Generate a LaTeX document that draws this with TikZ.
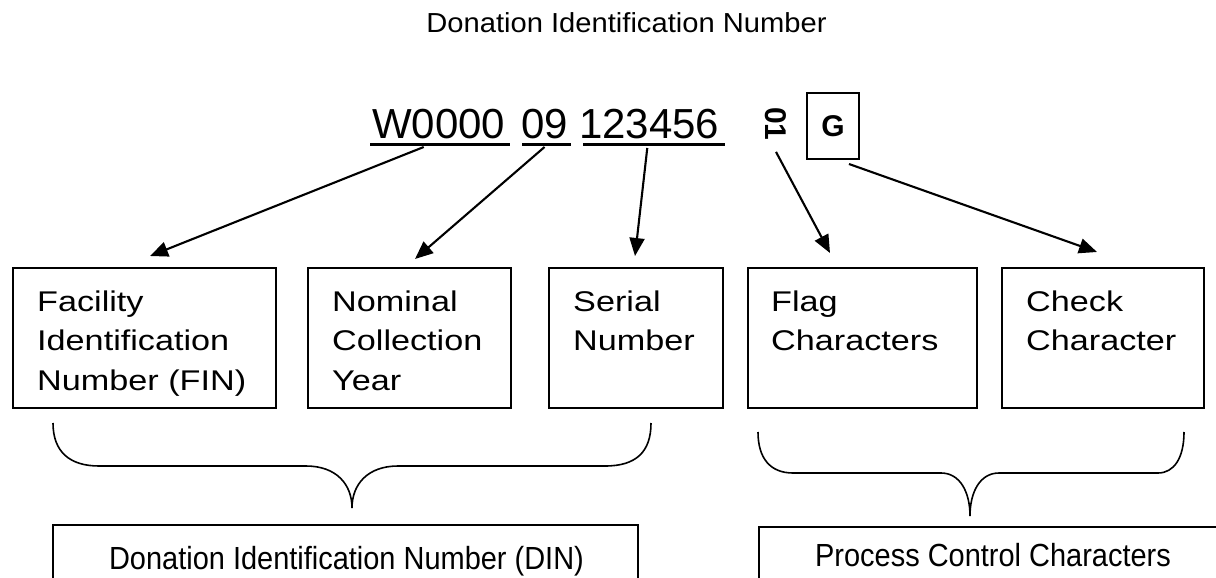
\documentclass[tikz,border=0pt]{standalone}
\usepackage{graphicx}
\usepackage{fontspec}
\setmainfont{Liberation Sans}
\newfontfamily\headfont[FakeStretch=1.06]{Liberation Sans}
\newfontfamily\cellfont[FakeStretch=1.2]{Liberation Sans}
\newfontfamily\groupfont[FakeStretch=0.905]{Liberation Sans}
\usetikzlibrary{arrows.meta}

% stacked lines, baseline on the first line
\newcommand\celllines[1]{\begin{tabular}[t]{@{}l@{}}#1\end{tabular}}

\tikzset{
  cell/.style={draw, line width=2.5pt, anchor=north west, inner sep=0pt, outer sep=0pt,
               minimum height=140pt},
  celltext/.style={anchor=base west, inner sep=0pt,
                   font=\cellfont\fontsize{28.5}{39.5}\selectfont},
  code/.style={anchor=base west, inner sep=0pt, font=\fontsize{42}{50}\selectfont},
  underbar/.style={line width=2.6pt},
  pointer/.style={line width=2.1pt, -{Triangle[length=18pt,width=15pt]}},
  brace/.style={line width=1.6pt},
  group/.style={line width=1.6pt},
  grouptext/.style={anchor=base, inner sep=0pt,
                    font=\groupfont\fontsize{32}{38}\selectfont},
  boldchar/.style={inner sep=0pt, font=\bfseries\fontsize{30}{36}\selectfont},
}

\begin{document}
\begin{tikzpicture}[x=1pt, y=-1pt]
\useasboundingbox (0,0) rectangle (1216,578);
\fill[white] (0,0) rectangle (1216,578);

% heading
\node[anchor=base, inner sep=0pt, font=\headfont\fontsize{27.5}{32}\selectfont] (title)
  at (626.5,32.3) {Donation Identification Number};

% the printed code
\node[code] (fac) at (372,138) {W0000};
\node[code] (yr)  at (521,138) {09};
\node[code] (ser) at (579,138) {123456};
\draw[underbar] ([xshift=-2pt,yshift=-6.5pt]fac.base west) -- ([xshift=5pt,yshift=-6.5pt]fac.base east);
\draw[underbar] ([xshift=1pt,yshift=-6.5pt]yr.base west) -- ([xshift=3pt,yshift=-6.5pt]yr.base east);
\draw[underbar] ([xshift=4pt,yshift=-6.5pt]ser.base west) -- ([xshift=5pt,yshift=-6.5pt]ser.base east);

\node[boldchar] (flags) at (776,124) {\rotatebox{-90}{01}};
\node[boldchar, draw, line width=2pt, minimum width=52pt, minimum height=66pt] (gbox)
  at (833,126) {G};

% field boxes
\node[cell, minimum width=263pt] (fin)    at (13,268)   {};
\node[cell, minimum width=203pt] (year)   at (308,268)  {};
\node[cell, minimum width=174pt] (serial) at (549,268)  {};
\node[cell, minimum width=229pt] (flag)   at (748,268)  {};
\node[cell, minimum width=202pt] (check)  at (1002,268) {};

\node[celltext] (fintext)    at (37,311)   {\celllines{Facility\\Identification\\Number (FIN)}};
\node[celltext] (yeartext)   at (332,311)  {\celllines{Nominal\\Collection\\Year}};
\node[celltext] (serialtext) at (573,311)  {\celllines{Serial\\Number}};
\node[celltext] (flagtext)   at (771,311)  {\celllines{Flag\\Characters}};
\node[celltext] (checktext)  at (1026,311) {\celllines{Check\\Character}};

% pointers from the code parts to their fields
\draw[pointer] ([xshift=-15pt,yshift=-9pt]fac.base) -- ([xshift=5.5pt,yshift=12pt]fin.north);
\draw[pointer] ([yshift=-9pt]yr.base) -- ([xshift=5.5pt,yshift=9pt]year.north);
\draw[pointer] ([xshift=-2pt,yshift=-10pt]ser.base) -- ([xshift=-1pt,yshift=12pt]serial.north);
\draw[pointer] ([yshift=-11pt]flags.south) -- ([xshift=-32.5pt,yshift=15pt]flag.north);
\draw[pointer] ([xshift=16pt,yshift=-4pt]gbox.south) -- ([xshift=-6pt,yshift=16pt]check.north);

% braces grouping the fields
\draw[brace] (53,423) .. controls (53,452) and (70,466) .. (99,466) -- (306,466)
  .. controls (336,466) and (352,484) .. (352,508)
  .. controls (352,484) and (368,466) .. (398,466) -- (605,466)
  .. controls (636,466) and (651,452) .. (651,423);
\draw[brace] (758,432) .. controls (758,458) and (770,473) .. (793,473) -- (941,473)
  .. controls (960,473) and (970,492) .. (970,516)
  .. controls (970,492) and (980,473) .. (999,473) -- (1158,473)
  .. controls (1174,473) and (1184,458) .. (1184,432);

% group captions
\draw[group] (53,578) -- (53,525) -- (638,525) -- (638,578);
\node[grouptext] (din) at (346.5,569.5) {Donation Identification Number (DIN)};
\draw[group] (759,578) -- (759,527) -- (1216,527);
\node[grouptext] (pcc) at (993,566) {Process Control Characters};
\end{tikzpicture}
\end{document}
